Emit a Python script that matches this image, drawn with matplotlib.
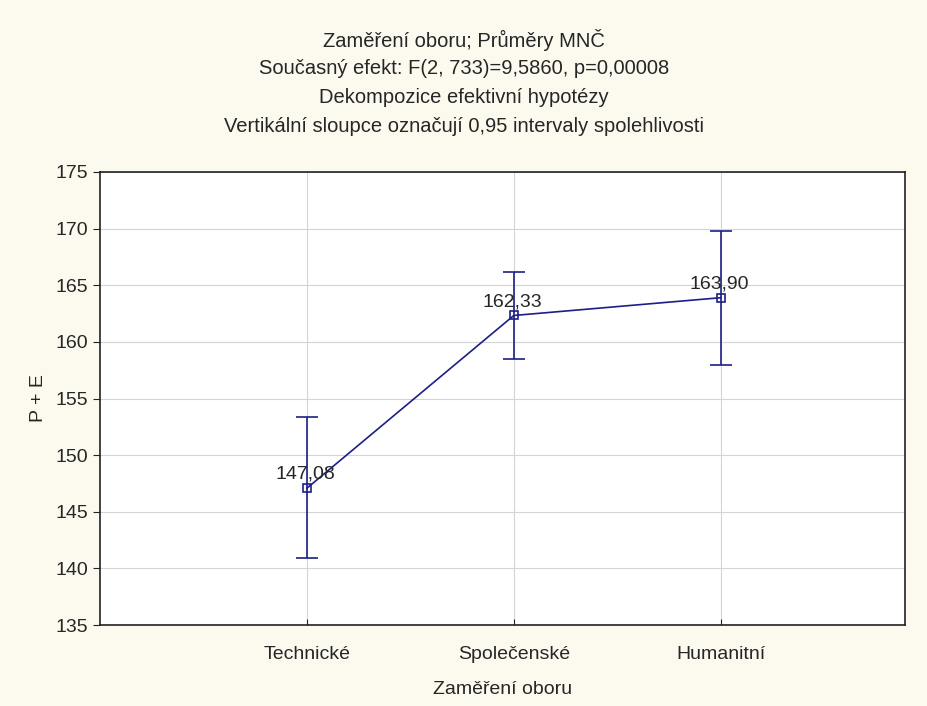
import matplotlib
matplotlib.use("Agg")
import matplotlib.pyplot as plt

# data
groups = ["Technické", "Společenské", "Humanitní"]
means = [147.08, 162.33, 163.90]
ci_low = [140.9, 158.5, 158.0]
ci_high = [153.4, 166.2, 169.8]
yticks = [135, 140, 145, 150, 155, 160, 165, 170, 175]

title_lines = ["Zaměření oboru; Průměry MNČ",
               "Současný efekt: F(2, 733)=9,5860, p=0,00008",
               "Dekompozice efektivní hypotézy",
               "Vertikální sloupce označují 0,95 intervaly spolehlivosti"]

plt.rcParams["font.family"] = ["Liberation Sans", "DejaVu Sans"]
navy = "#1c1f86"
bg = "#fcf9ef"
txt = "#262626"
fs = 14

fig = plt.figure(figsize=(9.28, 7.06), dpi=100, facecolor=bg)
ax = fig.add_axes([0.1078, 0.1147, 0.8672, 0.6417])
ax.set_facecolor("white")

x = [1, 2, 3]
err = [[m - lo for m, lo in zip(means, ci_low)],
       [hi - m for m, hi in zip(means, ci_high)]]
ax.errorbar(x, means, yerr=err, color=navy, lw=1.2, capsize=8, capthick=1.2,
            marker="s", ms=5.5, mfc="none", mec=navy, mew=1.2, zorder=3)
for xi, m in zip(x, means):
    ax.annotate(f"{m:.2f}".replace(".", ","), (xi, m), xytext=(-1, 10),
                textcoords="offset points", ha="center", va="center",
                fontsize=fs, color=txt, zorder=4)

ax.set_xlim(0, 3.89)
ax.set_ylim(135, 175)
ax.set_yticks(yticks)
ax.set_xticks(x)
ax.set_xticklabels(groups)
ax.grid(True, color="#d4d4d4", lw=0.8)
ax.set_axisbelow(True)
ax.tick_params(axis="y", direction="out", length=5, labelsize=fs, colors=txt)
ax.tick_params(axis="x", direction="in", length=4, labelsize=fs, colors=txt, pad=15)
ax.tick_params(axis="both", color="#222222")
for s in ax.spines.values():
    s.set_color("#222222")
    s.set_linewidth(1.2)
ax.set_ylabel("P + E", fontsize=fs, color=txt, labelpad=6)
ax.set_xlabel("Zaměření oboru", fontsize=fs, color=txt, labelpad=13)

for i, t in enumerate(title_lines):
    fig.text(0.5, 1 - (40 + 28.7 * i) / 706, t, ha="center", va="center",
             fontsize=14.5, color=txt)

fig.savefig("out.png", dpi=100, facecolor=bg)
